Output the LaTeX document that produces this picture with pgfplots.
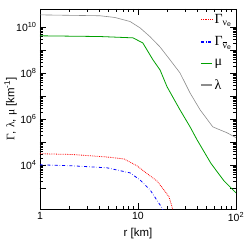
\documentclass[border=0pt]{standalone}
\usepackage{fontspec}
\setmainfont{Liberation Sans}
\newfontfamily\symf{Liberation Serif}
\usepackage{pgfplots}
\pgfplotsset{compat=1.18}
\definecolor{rgreen}{RGB}{0,160,0}
\definecolor{rgray}{RGB}{140,140,140}
\begin{document}
\begin{tikzpicture}
\useasboundingbox (-40bp,-33bp) rectangle (209bp,209bp);
\begin{axis}[
  at={(0,0)}, anchor=south west,
  scale only axis, width=196bp, height=200bp,
  xmode=log, ymode=log,
  xmin=1, xmax=100, ymin=126, ymax=6.3e10,
  xtick={1,10,100}, xticklabels={1,10,10\textsuperscript{2}},
  ytick={1e3,1e4,1e5,1e6,1e7,1e8,1e9,1e10},
  yticklabels={{},10\textsuperscript{4},{},10\textsuperscript{6},{},10\textsuperscript{8},{},10\textsuperscript{10}},
  tick align=inside,
  major tick length=6bp, minor tick length=3bp,
  every tick/.style={black, line width=0.4pt},
  axis line style={line width=0.6pt},
  tick label style={font=\fontsize{10.5}{12}\selectfont},
  xlabel={r [km]},
  ylabel={{\symf Γ}, {\symf λ}, {\symf μ} [km\textsuperscript{-1}]},
  xlabel style={at={(axis description cs:0.5,-0.125)}, anchor=center},
  ylabel style={at={(axis description cs:-0.15,0.5)}, anchor=center},
  label style={font=\fontsize{11.5}{13}\selectfont},
  legend style={draw=none, fill=none, at={(rel axis cs:0.99,0.985)}, anchor=north east,
     row sep=8bp, inner sep=0pt},
  legend cell align=left,
  legend image code/.code={\draw[#1, line width=1.3pt] (0bp,0bp) -- (11bp,0bp);},
]
\addplot[red, densely dotted, line width=0.8pt] coordinates {
(1,3.2e4) (2.17,2.95e4) (4.83,2.3e4) (7.2,1.9e4) (9.77,9.5e3) (12.4,4.3e3) (15.6,2.1e3) (18.4,850) (20.7,430) (22.2,160) (22.7,110)};
\addplot[blue, dash dot, line width=0.8pt] coordinates {
(1,1.05e4) (2.17,9.5e3) (4.83,7.8e3) (8.3,4.7e3) (10.5,2.3e3) (13.3,850) (16,257) (17.6,141) (18,110)};
\addplot[rgreen, line width=0.8pt] coordinates {
(1,4.3e9) (4.1,4.0e9) (8.9,3.5e9) (11.2,2.1e9) (14.2,3.9e8) (16.8,1.4e8) (19.8,2.6e7) (26.8,2.6e6) (34,4.7e5) (40,1.3e5) (55.6,1.2e4) (75.5,2.1e3) (100,630)};
\addplot[rgray, line width=0.6pt] coordinates {
(1,3.5e10) (4.1,3.2e10) (5.8,2.7e10) (8.3,1.8e10) (10.5,9.5e9) (13.3,3.9e9) (16.8,1.4e9) (21.2,3.9e8) (26.8,1.05e8) (34,1.4e7) (43,2.6e6) (58,4.7e5) (81,2.6e5) (100,1.6e5)};
\legend{{\fontsize{14}{16}\selectfont{\symf Γ}\textsubscript{{\symf ν}\textsubscript{e}}},
  {\fontsize{14}{16}\selectfont{\symf Γ}\textsubscript{$\overline{\hbox{\symf ν}}$\textsubscript{e}}},
  {\fontsize{14}{16}\selectfont\symf μ}, {\fontsize{14}{16}\selectfont\symf λ}}
\end{axis}
\end{tikzpicture}
\end{document}
